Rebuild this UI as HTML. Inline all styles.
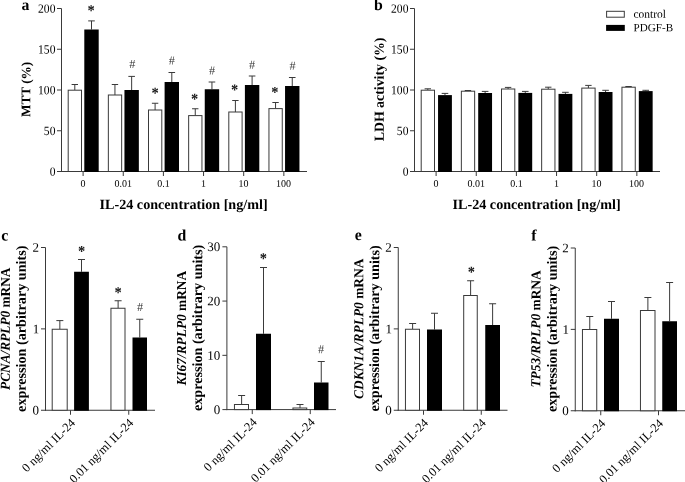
<!DOCTYPE html>
<html><head><meta charset="utf-8"><style>
html,body{margin:0;padding:0;background:#fff;width:685px;height:482px;overflow:hidden}
svg{display:block;will-change:transform;font-family:"Liberation Serif", serif}
</style></head><body>
<svg width="685" height="482" viewBox="0 0 685 482">
<rect width="685" height="482" fill="#fff"/>
<line x1="61.5" y1="8.5" x2="61.5" y2="172" stroke="#3a3a3a" stroke-width="1"/>
<line x1="61" y1="171.5" x2="307" y2="171.5" stroke="#3a3a3a" stroke-width="1"/>
<line x1="57" y1="171.5" x2="61.5" y2="171.5" stroke="#3a3a3a" stroke-width="1"/>
<text transform="translate(49.64,175.8) rotate(0.05) scale(0.92,1)" font-size="12.6" font-weight="normal" font-style="normal" fill="#000">0</text>
<line x1="57" y1="130.75" x2="61.5" y2="130.75" stroke="#3a3a3a" stroke-width="1"/>
<text transform="translate(43.84,135.05) rotate(0.05) scale(0.92,1)" font-size="12.6" font-weight="normal" font-style="normal" fill="#000">50</text>
<line x1="57" y1="90" x2="61.5" y2="90" stroke="#3a3a3a" stroke-width="1"/>
<text transform="translate(38.05,94.3) rotate(0.05) scale(0.92,1)" font-size="12.6" font-weight="normal" font-style="normal" fill="#000">100</text>
<line x1="57" y1="49.25" x2="61.5" y2="49.25" stroke="#3a3a3a" stroke-width="1"/>
<text transform="translate(38.05,53.55) rotate(0.05) scale(0.92,1)" font-size="12.6" font-weight="normal" font-style="normal" fill="#000">150</text>
<line x1="57" y1="8.5" x2="61.5" y2="8.5" stroke="#3a3a3a" stroke-width="1"/>
<text transform="translate(38.05,12.8) rotate(0.05) scale(0.92,1)" font-size="12.6" font-weight="normal" font-style="normal" fill="#000">200</text>
<line x1="83.1" y1="171.5" x2="83.1" y2="176" stroke="#3a3a3a" stroke-width="1"/>
<text transform="translate(80.6,186.8) rotate(0.05)" font-size="10" font-weight="normal" font-style="normal" fill="#000">0</text>
<line x1="123.25" y1="171.5" x2="123.25" y2="176" stroke="#3a3a3a" stroke-width="1"/>
<text transform="translate(114.61,186.8) rotate(0.05)" font-size="10" font-weight="normal" font-style="normal" fill="#000">0.01</text>
<line x1="163.4" y1="171.5" x2="163.4" y2="176" stroke="#3a3a3a" stroke-width="1"/>
<text transform="translate(157.26,186.8) rotate(0.05)" font-size="10" font-weight="normal" font-style="normal" fill="#000">0.1</text>
<line x1="203.55" y1="171.5" x2="203.55" y2="176" stroke="#3a3a3a" stroke-width="1"/>
<text transform="translate(200.91,186.8) rotate(0.05)" font-size="10" font-weight="normal" font-style="normal" fill="#000">1</text>
<line x1="243.7" y1="171.5" x2="243.7" y2="176" stroke="#3a3a3a" stroke-width="1"/>
<text transform="translate(238.45,186.8) rotate(0.05)" font-size="10" font-weight="normal" font-style="normal" fill="#000">10</text>
<line x1="283.85" y1="171.5" x2="283.85" y2="176" stroke="#3a3a3a" stroke-width="1"/>
<text transform="translate(276.1,186.8) rotate(0.05)" font-size="10" font-weight="normal" font-style="normal" fill="#000">100</text>
<line x1="74.8" y1="84.5" x2="74.8" y2="90.2" stroke="#3a3a3a" stroke-width="1"/>
<line x1="71.6" y1="84.5" x2="78" y2="84.5" stroke="#3a3a3a" stroke-width="1"/>
<line x1="91.5" y1="20.9" x2="91.5" y2="29.5" stroke="#3a3a3a" stroke-width="1"/>
<line x1="88.2" y1="20.9" x2="94.8" y2="20.9" stroke="#3a3a3a" stroke-width="1"/>
<rect x="68.2" y="90.2" width="13.3" height="81.3" fill="#fff" stroke="#3a3a3a" stroke-width="1"/>
<rect x="84.3" y="29.5" width="14.4" height="142.5" fill="#000"/>
<line x1="114.95" y1="84.5" x2="114.95" y2="95" stroke="#3a3a3a" stroke-width="1"/>
<line x1="111.75" y1="84.5" x2="118.15" y2="84.5" stroke="#3a3a3a" stroke-width="1"/>
<line x1="131.65" y1="76.4" x2="131.65" y2="90" stroke="#3a3a3a" stroke-width="1"/>
<line x1="128.35" y1="76.4" x2="134.95" y2="76.4" stroke="#3a3a3a" stroke-width="1"/>
<rect x="108.35" y="95" width="13.3" height="76.5" fill="#fff" stroke="#3a3a3a" stroke-width="1"/>
<rect x="124.45" y="90" width="14.4" height="82" fill="#000"/>
<line x1="155.1" y1="103.25" x2="155.1" y2="110" stroke="#3a3a3a" stroke-width="1"/>
<line x1="151.9" y1="103.25" x2="158.3" y2="103.25" stroke="#3a3a3a" stroke-width="1"/>
<line x1="171.8" y1="72.5" x2="171.8" y2="82" stroke="#3a3a3a" stroke-width="1"/>
<line x1="168.5" y1="72.5" x2="175.1" y2="72.5" stroke="#3a3a3a" stroke-width="1"/>
<rect x="148.5" y="110" width="13.3" height="61.5" fill="#fff" stroke="#3a3a3a" stroke-width="1"/>
<rect x="164.6" y="82" width="14.4" height="90" fill="#000"/>
<line x1="195.25" y1="108.75" x2="195.25" y2="115.6" stroke="#3a3a3a" stroke-width="1"/>
<line x1="192.05" y1="108.75" x2="198.45" y2="108.75" stroke="#3a3a3a" stroke-width="1"/>
<line x1="211.95" y1="82" x2="211.95" y2="89.25" stroke="#3a3a3a" stroke-width="1"/>
<line x1="208.65" y1="82" x2="215.25" y2="82" stroke="#3a3a3a" stroke-width="1"/>
<rect x="188.65" y="115.6" width="13.3" height="55.9" fill="#fff" stroke="#3a3a3a" stroke-width="1"/>
<rect x="204.75" y="89.25" width="14.4" height="82.75" fill="#000"/>
<line x1="235.4" y1="100.5" x2="235.4" y2="112" stroke="#3a3a3a" stroke-width="1"/>
<line x1="232.2" y1="100.5" x2="238.6" y2="100.5" stroke="#3a3a3a" stroke-width="1"/>
<line x1="252.1" y1="76" x2="252.1" y2="85" stroke="#3a3a3a" stroke-width="1"/>
<line x1="248.8" y1="76" x2="255.4" y2="76" stroke="#3a3a3a" stroke-width="1"/>
<rect x="228.8" y="112" width="13.3" height="59.5" fill="#fff" stroke="#3a3a3a" stroke-width="1"/>
<rect x="244.9" y="85" width="14.4" height="87" fill="#000"/>
<line x1="275.55" y1="102.5" x2="275.55" y2="108.6" stroke="#3a3a3a" stroke-width="1"/>
<line x1="272.35" y1="102.5" x2="278.75" y2="102.5" stroke="#3a3a3a" stroke-width="1"/>
<line x1="292.25" y1="77.5" x2="292.25" y2="86" stroke="#3a3a3a" stroke-width="1"/>
<line x1="288.95" y1="77.5" x2="295.55" y2="77.5" stroke="#3a3a3a" stroke-width="1"/>
<rect x="268.95" y="108.6" width="13.3" height="62.9" fill="#fff" stroke="#3a3a3a" stroke-width="1"/>
<rect x="285.05" y="86" width="14.4" height="86" fill="#000"/>
<text transform="translate(91.1,8.1) rotate(0.2) scale(1,1.12)" x="-3.61" y="6.78" font-size="14.4" font-weight="bold" fill="#1a1a1a">*</text>
<text transform="translate(132.25,63.9) rotate(0.3)" x="-3.05" y="4" font-size="12.2" fill="#333">#</text>
<text transform="translate(155.05,90.65) rotate(0.2) scale(1,1.12)" x="-3.61" y="6.78" font-size="14.4" font-weight="bold" fill="#1a1a1a">*</text>
<text transform="translate(171.9,60.6) rotate(0.3)" x="-3.05" y="4" font-size="12.2" fill="#333">#</text>
<text transform="translate(194.65,96.55) rotate(0.2) scale(1,1.12)" x="-3.61" y="6.78" font-size="14.4" font-weight="bold" fill="#1a1a1a">*</text>
<text transform="translate(212,70.6) rotate(0.3)" x="-3.05" y="4" font-size="12.2" fill="#333">#</text>
<text transform="translate(234.65,87.4) rotate(0.2) scale(1,1.12)" x="-3.61" y="6.78" font-size="14.4" font-weight="bold" fill="#1a1a1a">*</text>
<text transform="translate(252.1,64.8) rotate(0.3)" x="-3.05" y="4" font-size="12.2" fill="#333">#</text>
<text transform="translate(274.95,89.95) rotate(0.2) scale(1,1.12)" x="-3.61" y="6.78" font-size="14.4" font-weight="bold" fill="#1a1a1a">*</text>
<text transform="translate(292.5,65.8) rotate(0.3)" x="-3.05" y="4" font-size="12.2" fill="#333">#</text>
<text transform="translate(99.54,208.9) rotate(0.05)" font-size="14.15" font-weight="bold" font-style="normal" fill="#000">IL-24 concentration [ng/ml]</text>
<text transform="translate(30.35,116.93) rotate(-89.95)" font-size="13.2"><tspan font-weight="bold" font-style="normal">MTT (%)</tspan></text>
<line x1="414.5" y1="8.5" x2="414.5" y2="172" stroke="#3a3a3a" stroke-width="1"/>
<line x1="414" y1="171.5" x2="660" y2="171.5" stroke="#3a3a3a" stroke-width="1"/>
<line x1="410" y1="171.5" x2="414.5" y2="171.5" stroke="#3a3a3a" stroke-width="1"/>
<text transform="translate(402.64,175.8) rotate(0.05) scale(0.92,1)" font-size="12.6" font-weight="normal" font-style="normal" fill="#000">0</text>
<line x1="410" y1="130.75" x2="414.5" y2="130.75" stroke="#3a3a3a" stroke-width="1"/>
<text transform="translate(396.84,135.05) rotate(0.05) scale(0.92,1)" font-size="12.6" font-weight="normal" font-style="normal" fill="#000">50</text>
<line x1="410" y1="90" x2="414.5" y2="90" stroke="#3a3a3a" stroke-width="1"/>
<text transform="translate(391.05,94.3) rotate(0.05) scale(0.92,1)" font-size="12.6" font-weight="normal" font-style="normal" fill="#000">100</text>
<line x1="410" y1="49.25" x2="414.5" y2="49.25" stroke="#3a3a3a" stroke-width="1"/>
<text transform="translate(391.05,53.55) rotate(0.05) scale(0.92,1)" font-size="12.6" font-weight="normal" font-style="normal" fill="#000">150</text>
<line x1="410" y1="8.5" x2="414.5" y2="8.5" stroke="#3a3a3a" stroke-width="1"/>
<text transform="translate(391.05,12.8) rotate(0.05) scale(0.92,1)" font-size="12.6" font-weight="normal" font-style="normal" fill="#000">200</text>
<line x1="436.1" y1="171.5" x2="436.1" y2="176" stroke="#3a3a3a" stroke-width="1"/>
<text transform="translate(433.6,186.8) rotate(0.05)" font-size="10" font-weight="normal" font-style="normal" fill="#000">0</text>
<line x1="476.25" y1="171.5" x2="476.25" y2="176" stroke="#3a3a3a" stroke-width="1"/>
<text transform="translate(467.61,186.8) rotate(0.05)" font-size="10" font-weight="normal" font-style="normal" fill="#000">0.01</text>
<line x1="516.4" y1="171.5" x2="516.4" y2="176" stroke="#3a3a3a" stroke-width="1"/>
<text transform="translate(510.26,186.8) rotate(0.05)" font-size="10" font-weight="normal" font-style="normal" fill="#000">0.1</text>
<line x1="556.55" y1="171.5" x2="556.55" y2="176" stroke="#3a3a3a" stroke-width="1"/>
<text transform="translate(553.91,186.8) rotate(0.05)" font-size="10" font-weight="normal" font-style="normal" fill="#000">1</text>
<line x1="596.7" y1="171.5" x2="596.7" y2="176" stroke="#3a3a3a" stroke-width="1"/>
<text transform="translate(591.45,186.8) rotate(0.05)" font-size="10" font-weight="normal" font-style="normal" fill="#000">10</text>
<line x1="636.85" y1="171.5" x2="636.85" y2="176" stroke="#3a3a3a" stroke-width="1"/>
<text transform="translate(629.1,186.8) rotate(0.05)" font-size="10" font-weight="normal" font-style="normal" fill="#000">100</text>
<line x1="427.8" y1="88.8" x2="427.8" y2="90.2" stroke="#3a3a3a" stroke-width="1"/>
<line x1="424.6" y1="88.8" x2="431" y2="88.8" stroke="#3a3a3a" stroke-width="1"/>
<line x1="444.98" y1="93.4" x2="444.98" y2="95.1" stroke="#3a3a3a" stroke-width="1"/>
<line x1="441.68" y1="93.4" x2="448.28" y2="93.4" stroke="#3a3a3a" stroke-width="1"/>
<rect x="421.2" y="90.2" width="13.3" height="81.3" fill="#fff" stroke="#3a3a3a" stroke-width="1"/>
<rect x="438.05" y="95.1" width="13.85" height="76.9" fill="#000"/>
<line x1="467.95" y1="90.5" x2="467.95" y2="91.2" stroke="#3a3a3a" stroke-width="1"/>
<line x1="464.75" y1="90.5" x2="471.15" y2="90.5" stroke="#3a3a3a" stroke-width="1"/>
<line x1="485.12" y1="91.4" x2="485.12" y2="93" stroke="#3a3a3a" stroke-width="1"/>
<line x1="481.82" y1="91.4" x2="488.43" y2="91.4" stroke="#3a3a3a" stroke-width="1"/>
<rect x="461.35" y="91.2" width="13.3" height="80.3" fill="#fff" stroke="#3a3a3a" stroke-width="1"/>
<rect x="478.2" y="93" width="13.85" height="79" fill="#000"/>
<line x1="508.1" y1="87.4" x2="508.1" y2="89" stroke="#3a3a3a" stroke-width="1"/>
<line x1="504.9" y1="87.4" x2="511.3" y2="87.4" stroke="#3a3a3a" stroke-width="1"/>
<line x1="525.27" y1="91.4" x2="525.27" y2="92.9" stroke="#3a3a3a" stroke-width="1"/>
<line x1="521.98" y1="91.4" x2="528.57" y2="91.4" stroke="#3a3a3a" stroke-width="1"/>
<rect x="501.5" y="89" width="13.3" height="82.5" fill="#fff" stroke="#3a3a3a" stroke-width="1"/>
<rect x="518.35" y="92.9" width="13.85" height="79.1" fill="#000"/>
<line x1="548.25" y1="87.2" x2="548.25" y2="89.2" stroke="#3a3a3a" stroke-width="1"/>
<line x1="545.05" y1="87.2" x2="551.45" y2="87.2" stroke="#3a3a3a" stroke-width="1"/>
<line x1="565.42" y1="92.3" x2="565.42" y2="93.9" stroke="#3a3a3a" stroke-width="1"/>
<line x1="562.12" y1="92.3" x2="568.72" y2="92.3" stroke="#3a3a3a" stroke-width="1"/>
<rect x="541.65" y="89.2" width="13.3" height="82.3" fill="#fff" stroke="#3a3a3a" stroke-width="1"/>
<rect x="558.5" y="93.9" width="13.85" height="78.1" fill="#000"/>
<line x1="588.4" y1="85.4" x2="588.4" y2="88.1" stroke="#3a3a3a" stroke-width="1"/>
<line x1="585.2" y1="85.4" x2="591.6" y2="85.4" stroke="#3a3a3a" stroke-width="1"/>
<line x1="605.57" y1="90.3" x2="605.57" y2="92" stroke="#3a3a3a" stroke-width="1"/>
<line x1="602.27" y1="90.3" x2="608.87" y2="90.3" stroke="#3a3a3a" stroke-width="1"/>
<rect x="581.8" y="88.1" width="13.3" height="83.4" fill="#fff" stroke="#3a3a3a" stroke-width="1"/>
<rect x="598.65" y="92" width="13.85" height="80" fill="#000"/>
<line x1="628.55" y1="86.5" x2="628.55" y2="87.2" stroke="#3a3a3a" stroke-width="1"/>
<line x1="625.35" y1="86.5" x2="631.75" y2="86.5" stroke="#3a3a3a" stroke-width="1"/>
<line x1="645.72" y1="90.3" x2="645.72" y2="91.1" stroke="#3a3a3a" stroke-width="1"/>
<line x1="642.42" y1="90.3" x2="649.02" y2="90.3" stroke="#3a3a3a" stroke-width="1"/>
<rect x="621.95" y="87.2" width="13.3" height="84.3" fill="#fff" stroke="#3a3a3a" stroke-width="1"/>
<rect x="638.8" y="91.1" width="13.85" height="80.9" fill="#000"/>
<text transform="translate(452.54,208.9) rotate(0.05)" font-size="14.15" font-weight="bold" font-style="normal" fill="#000">IL-24 concentration [ng/ml]</text>
<text transform="translate(383.72,141.34) rotate(-89.95)" font-size="13.85"><tspan font-weight="bold" font-style="normal">LDH activity (%)</tspan></text>
<text transform="translate(21.49,10) rotate(0.05)" font-size="15.8" font-weight="bold" font-style="normal" fill="#000">a</text>
<text transform="translate(374.1,10) rotate(0.05)" font-size="15.8" font-weight="bold" font-style="normal" fill="#000">b</text>
<rect x="606.6" y="11.3" width="17.7" height="5.9" fill="#fff" stroke="#3a3a3a" stroke-width="1"/>
<rect x="606.1" y="24.9" width="18.7" height="6" fill="#000"/>
<text transform="translate(633.47,17.8) rotate(0.05)" font-size="11.45" font-weight="normal" font-style="normal" fill="#000">control</text>
<text transform="translate(633.57,31.2) rotate(0.05)" font-size="11.1" font-weight="normal" font-style="normal" fill="#000">PDGF-B</text>
<line x1="45.5" y1="247.5" x2="45.5" y2="410.75" stroke="#3a3a3a" stroke-width="1"/>
<line x1="45" y1="410.25" x2="155" y2="410.25" stroke="#3a3a3a" stroke-width="1"/>
<line x1="41" y1="410.25" x2="45.5" y2="410.25" stroke="#3a3a3a" stroke-width="1"/>
<text transform="translate(32.39,414.55) rotate(0.05)" font-size="13" font-weight="normal" font-style="normal" fill="#000">0</text>
<line x1="41" y1="328.88" x2="45.5" y2="328.88" stroke="#3a3a3a" stroke-width="1"/>
<text transform="translate(32.68,333.18) rotate(0.05)" font-size="13" font-weight="normal" font-style="normal" fill="#000">1</text>
<line x1="41" y1="247.5" x2="45.5" y2="247.5" stroke="#3a3a3a" stroke-width="1"/>
<text transform="translate(32.61,251.8) rotate(0.05)" font-size="13" font-weight="normal" font-style="normal" fill="#000">2</text>
<line x1="70.5" y1="410.25" x2="70.5" y2="414.75" stroke="#3a3a3a" stroke-width="1"/>
<line x1="128.75" y1="410.25" x2="128.75" y2="414.75" stroke="#3a3a3a" stroke-width="1"/>
<line x1="59.85" y1="320.6" x2="59.85" y2="329.25" stroke="#3a3a3a" stroke-width="1"/>
<line x1="56.35" y1="320.6" x2="63.35" y2="320.6" stroke="#3a3a3a" stroke-width="1"/>
<rect x="52.2" y="329.25" width="15" height="81" fill="#fff" stroke="#3a3a3a" stroke-width="1"/>
<line x1="81.5" y1="259.5" x2="81.5" y2="271.75" stroke="#3a3a3a" stroke-width="1"/>
<line x1="78" y1="259.5" x2="85" y2="259.5" stroke="#3a3a3a" stroke-width="1"/>
<rect x="74.1" y="271.75" width="14.8" height="139" fill="#000"/>
<line x1="118.12" y1="300.75" x2="118.12" y2="308.25" stroke="#3a3a3a" stroke-width="1"/>
<line x1="114.62" y1="300.75" x2="121.62" y2="300.75" stroke="#3a3a3a" stroke-width="1"/>
<rect x="110.95" y="308.25" width="14.05" height="102" fill="#fff" stroke="#3a3a3a" stroke-width="1"/>
<line x1="139.75" y1="319.25" x2="139.75" y2="337.5" stroke="#3a3a3a" stroke-width="1"/>
<line x1="136.25" y1="319.25" x2="143.25" y2="319.25" stroke="#3a3a3a" stroke-width="1"/>
<rect x="132.5" y="337.5" width="14.5" height="73.25" fill="#000"/>
<text transform="translate(81.65,248.9) rotate(0.2) scale(1,1.12)" x="-3.61" y="6.78" font-size="14.4" font-weight="bold" fill="#1a1a1a">*</text>
<text transform="translate(118.05,290.05) rotate(0.2) scale(1,1.12)" x="-3.61" y="6.78" font-size="14.4" font-weight="bold" fill="#1a1a1a">*</text>
<text transform="translate(140,306.9) rotate(0.3)" x="-3.05" y="4" font-size="12.2" fill="#333">#</text>
<text transform="translate(76,423.55) rotate(-45)" font-size="12.4" text-anchor="end">0 ng/ml IL-24</text>
<text transform="translate(134.25,423.55) rotate(-45)" font-size="12.4" text-anchor="end">0.01 ng/ml IL-24</text>
<text transform="translate(9.8,389.9) rotate(-89.95) scale(0.9716,1)" font-size="13.7"><tspan font-weight="bold" font-style="italic">PCNA/RPLP0</tspan><tspan font-weight="bold" font-style="normal"> mRNA</tspan></text>
<text transform="translate(25.7,411.9) rotate(-89.95)" font-size="14.15"><tspan font-weight="bold" font-style="normal">expression (arbitrary units)</tspan></text>
<text transform="translate(1.35,240.5) rotate(0.05)" font-size="15.8" font-weight="bold" font-style="normal" fill="#000">c</text>
<line x1="226.9" y1="246.8" x2="226.9" y2="410.1" stroke="#3a3a3a" stroke-width="1"/>
<line x1="226.4" y1="409.6" x2="336" y2="409.6" stroke="#3a3a3a" stroke-width="1"/>
<line x1="222.4" y1="409.6" x2="226.9" y2="409.6" stroke="#3a3a3a" stroke-width="1"/>
<text transform="translate(213.79,413.9) rotate(0.05)" font-size="13" font-weight="normal" font-style="normal" fill="#000">0</text>
<line x1="222.4" y1="355.33" x2="226.9" y2="355.33" stroke="#3a3a3a" stroke-width="1"/>
<text transform="translate(207.29,359.63) rotate(0.05)" font-size="13" font-weight="normal" font-style="normal" fill="#000">10</text>
<line x1="222.4" y1="301.07" x2="226.9" y2="301.07" stroke="#3a3a3a" stroke-width="1"/>
<text transform="translate(207.29,305.37) rotate(0.05)" font-size="13" font-weight="normal" font-style="normal" fill="#000">20</text>
<line x1="222.4" y1="246.8" x2="226.9" y2="246.8" stroke="#3a3a3a" stroke-width="1"/>
<text transform="translate(207.29,251.1) rotate(0.05)" font-size="13" font-weight="normal" font-style="normal" fill="#000">30</text>
<line x1="252.25" y1="409.6" x2="252.25" y2="414.1" stroke="#3a3a3a" stroke-width="1"/>
<line x1="310.25" y1="409.6" x2="310.25" y2="414.1" stroke="#3a3a3a" stroke-width="1"/>
<line x1="241.62" y1="395.5" x2="241.62" y2="404.5" stroke="#3a3a3a" stroke-width="1"/>
<line x1="238.12" y1="395.5" x2="245.12" y2="395.5" stroke="#3a3a3a" stroke-width="1"/>
<rect x="234.45" y="404.5" width="14.05" height="5.1" fill="#fff" stroke="#3a3a3a" stroke-width="1"/>
<line x1="263.5" y1="267.5" x2="263.5" y2="333.75" stroke="#3a3a3a" stroke-width="1"/>
<line x1="260" y1="267.5" x2="267" y2="267.5" stroke="#3a3a3a" stroke-width="1"/>
<rect x="256" y="333.75" width="15" height="76.35" fill="#000"/>
<line x1="300" y1="404.5" x2="300" y2="408" stroke="#3a3a3a" stroke-width="1"/>
<line x1="296.5" y1="404.5" x2="303.5" y2="404.5" stroke="#3a3a3a" stroke-width="1"/>
<rect x="292.95" y="408" width="13.8" height="1.6" fill="#fff" stroke="#3a3a3a" stroke-width="1"/>
<line x1="321.25" y1="361.5" x2="321.25" y2="382.5" stroke="#3a3a3a" stroke-width="1"/>
<line x1="317.75" y1="361.5" x2="324.75" y2="361.5" stroke="#3a3a3a" stroke-width="1"/>
<rect x="314" y="382.5" width="14.5" height="27.6" fill="#000"/>
<text transform="translate(263.4,256.25) rotate(0.2) scale(1,1.12)" x="-3.61" y="6.78" font-size="14.4" font-weight="bold" fill="#1a1a1a">*</text>
<text transform="translate(321,349.25) rotate(0.3)" x="-3.05" y="4" font-size="12.2" fill="#333">#</text>
<text transform="translate(257.75,422.9) rotate(-45)" font-size="12.4" text-anchor="end">0 ng/ml IL-24</text>
<text transform="translate(315.75,422.9) rotate(-45)" font-size="12.4" text-anchor="end">0.01 ng/ml IL-24</text>
<text transform="translate(185.9,385.5) rotate(-89.95) scale(0.9764,1)" font-size="13.7"><tspan font-weight="bold" font-style="italic">KI67/RPLP0</tspan><tspan font-weight="bold" font-style="normal"> mRNA</tspan></text>
<text transform="translate(202,411) rotate(-89.95)" font-size="14.15"><tspan font-weight="bold" font-style="normal">expression (arbitrary units)</tspan></text>
<text transform="translate(177.47,240.5) rotate(0.05)" font-size="15.8" font-weight="bold" font-style="normal" fill="#000">d</text>
<line x1="398.25" y1="247.5" x2="398.25" y2="410.75" stroke="#3a3a3a" stroke-width="1"/>
<line x1="397.75" y1="410.25" x2="507.5" y2="410.25" stroke="#3a3a3a" stroke-width="1"/>
<line x1="393.75" y1="410.25" x2="398.25" y2="410.25" stroke="#3a3a3a" stroke-width="1"/>
<text transform="translate(385.14,414.55) rotate(0.05)" font-size="13" font-weight="normal" font-style="normal" fill="#000">0</text>
<line x1="393.75" y1="328.88" x2="398.25" y2="328.88" stroke="#3a3a3a" stroke-width="1"/>
<text transform="translate(385.43,333.18) rotate(0.05)" font-size="13" font-weight="normal" font-style="normal" fill="#000">1</text>
<line x1="393.75" y1="247.5" x2="398.25" y2="247.5" stroke="#3a3a3a" stroke-width="1"/>
<text transform="translate(385.36,251.8) rotate(0.05)" font-size="13" font-weight="normal" font-style="normal" fill="#000">2</text>
<line x1="423.5" y1="410.25" x2="423.5" y2="414.75" stroke="#3a3a3a" stroke-width="1"/>
<line x1="481.25" y1="410.25" x2="481.25" y2="414.75" stroke="#3a3a3a" stroke-width="1"/>
<line x1="412.62" y1="323.5" x2="412.62" y2="329.25" stroke="#3a3a3a" stroke-width="1"/>
<line x1="409.12" y1="323.5" x2="416.12" y2="323.5" stroke="#3a3a3a" stroke-width="1"/>
<rect x="405.45" y="329.25" width="14.05" height="81" fill="#fff" stroke="#3a3a3a" stroke-width="1"/>
<line x1="434.5" y1="313.25" x2="434.5" y2="329.5" stroke="#3a3a3a" stroke-width="1"/>
<line x1="431" y1="313.25" x2="438" y2="313.25" stroke="#3a3a3a" stroke-width="1"/>
<rect x="427" y="329.5" width="15" height="81.25" fill="#000"/>
<line x1="470.62" y1="280.75" x2="470.62" y2="295.5" stroke="#3a3a3a" stroke-width="1"/>
<line x1="467.12" y1="280.75" x2="474.12" y2="280.75" stroke="#3a3a3a" stroke-width="1"/>
<rect x="463.7" y="295.5" width="13.55" height="114.75" fill="#fff" stroke="#3a3a3a" stroke-width="1"/>
<line x1="492.62" y1="303.75" x2="492.62" y2="325" stroke="#3a3a3a" stroke-width="1"/>
<line x1="489.12" y1="303.75" x2="496.12" y2="303.75" stroke="#3a3a3a" stroke-width="1"/>
<rect x="485.25" y="325" width="14.75" height="85.75" fill="#000"/>
<text transform="translate(471.4,269.65) rotate(0.2) scale(1,1.12)" x="-3.61" y="6.78" font-size="14.4" font-weight="bold" fill="#1a1a1a">*</text>
<text transform="translate(429,423.55) rotate(-45)" font-size="12.4" text-anchor="end">0 ng/ml IL-24</text>
<text transform="translate(486.75,423.55) rotate(-45)" font-size="12.4" text-anchor="end">0.01 ng/ml IL-24</text>
<text transform="translate(363.2,398.97) rotate(-89.95) scale(0.9784,1)" font-size="13.7"><tspan font-weight="bold" font-style="italic">CDKN1A/RPLP0</tspan><tspan font-weight="bold" font-style="normal"> mRNA</tspan></text>
<text transform="translate(379,411.5) rotate(-89.95)" font-size="14.15"><tspan font-weight="bold" font-style="normal">expression (arbitrary units)</tspan></text>
<text transform="translate(354.65,240) rotate(0.05)" font-size="15.8" font-weight="bold" font-style="normal" fill="#000">e</text>
<line x1="575.25" y1="248" x2="575.25" y2="411.25" stroke="#3a3a3a" stroke-width="1"/>
<line x1="574.75" y1="410.75" x2="685" y2="410.75" stroke="#3a3a3a" stroke-width="1"/>
<line x1="570.75" y1="410.75" x2="575.25" y2="410.75" stroke="#3a3a3a" stroke-width="1"/>
<text transform="translate(562.14,415.05) rotate(0.05)" font-size="13" font-weight="normal" font-style="normal" fill="#000">0</text>
<line x1="570.75" y1="329.38" x2="575.25" y2="329.38" stroke="#3a3a3a" stroke-width="1"/>
<text transform="translate(562.43,333.68) rotate(0.05)" font-size="13" font-weight="normal" font-style="normal" fill="#000">1</text>
<line x1="570.75" y1="248" x2="575.25" y2="248" stroke="#3a3a3a" stroke-width="1"/>
<text transform="translate(562.37,252.3) rotate(0.05)" font-size="13" font-weight="normal" font-style="normal" fill="#000">2</text>
<line x1="600.75" y1="410.75" x2="600.75" y2="415.25" stroke="#3a3a3a" stroke-width="1"/>
<line x1="658.5" y1="410.75" x2="658.5" y2="415.25" stroke="#3a3a3a" stroke-width="1"/>
<line x1="589.75" y1="316.5" x2="589.75" y2="329.5" stroke="#3a3a3a" stroke-width="1"/>
<line x1="586.25" y1="316.5" x2="593.25" y2="316.5" stroke="#3a3a3a" stroke-width="1"/>
<rect x="582.45" y="329.5" width="14.3" height="81.25" fill="#fff" stroke="#3a3a3a" stroke-width="1"/>
<line x1="611.5" y1="301.5" x2="611.5" y2="318.75" stroke="#3a3a3a" stroke-width="1"/>
<line x1="608" y1="301.5" x2="615" y2="301.5" stroke="#3a3a3a" stroke-width="1"/>
<rect x="604" y="318.75" width="15" height="92.5" fill="#000"/>
<line x1="647.88" y1="297.5" x2="647.88" y2="310.5" stroke="#3a3a3a" stroke-width="1"/>
<line x1="644.38" y1="297.5" x2="651.38" y2="297.5" stroke="#3a3a3a" stroke-width="1"/>
<rect x="640.45" y="310.5" width="14.55" height="100.25" fill="#fff" stroke="#3a3a3a" stroke-width="1"/>
<line x1="669.62" y1="282.5" x2="669.62" y2="321.25" stroke="#3a3a3a" stroke-width="1"/>
<line x1="666.12" y1="282.5" x2="673.12" y2="282.5" stroke="#3a3a3a" stroke-width="1"/>
<rect x="662.25" y="321.25" width="14.75" height="90" fill="#000"/>
<text transform="translate(606.25,424.05) rotate(-45)" font-size="12.4" text-anchor="end">0 ng/ml IL-24</text>
<text transform="translate(664,424.05) rotate(-45)" font-size="12.4" text-anchor="end">0.01 ng/ml IL-24</text>
<text transform="translate(540.3,387.57) rotate(-89.95) scale(0.9791,1)" font-size="13.7"><tspan font-weight="bold" font-style="italic">TP53/RPLP0</tspan><tspan font-weight="bold" font-style="normal"> mRNA</tspan></text>
<text transform="translate(556.6,412) rotate(-89.95)" font-size="14.15"><tspan font-weight="bold" font-style="normal">expression (arbitrary units)</tspan></text>
<text transform="translate(531.18,240.6) rotate(0.05)" font-size="15.8" font-weight="bold" font-style="normal" fill="#000">f</text>
</svg>
</body></html>
